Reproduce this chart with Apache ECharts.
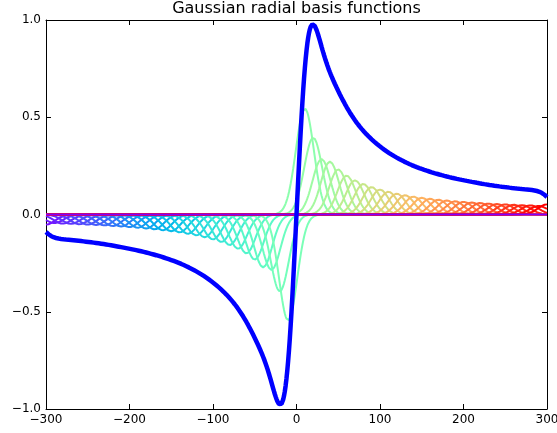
<!DOCTYPE html>
<html>
<head>
<meta charset="utf-8">
<script src="https://cdn.jsdelivr.net/npm/echarts@6/dist/echarts.min.js"></script>
<style>
  html, body { margin: 0; padding: 0; background: #fff; }
  #chart { width: 557px; height: 433px; }
</style>
</head>
<body>
<div id="chart"></div>
<script>
// Gaussian centres along x
const centers = [
  -300, -290, -280, -270, -260, -250, -240, -230, -220, -210,
  -200, -190, -180, -170, -160, -150, -140, -130, -120, -110,
  -100, -90, -80, -70, -60, -50, -40, -30, -20, -10,
  0,
  10, 20, 30, 40, 50, 60, 70, 80, 90, 100,
  110, 120, 130, 140, 150, 160, 170, 180, 190, 200,
  210, 220, 230, 240, 250, 260, 270, 280, 290, 300
];
// Fitted weight of each Gaussian (its peak height)
const weights = [
  -0.052, -0.044, -0.047, -0.048, -0.050, -0.052, -0.054, -0.056, -0.059, -0.062,
  -0.065, -0.068, -0.072, -0.076, -0.081, -0.086, -0.092, -0.099, -0.107, -0.117,
  -0.128, -0.141, -0.157, -0.176, -0.200, -0.232, -0.272, -0.285, -0.395, -0.545,
  0.000,
  0.545, 0.395, 0.285, 0.272, 0.232, 0.200, 0.176, 0.157, 0.141, 0.128,
  0.117, 0.107, 0.099, 0.092, 0.086, 0.081, 0.076, 0.072, 0.068, 0.065,
  0.062, 0.059, 0.056, 0.054, 0.052, 0.050, 0.048, 0.047, 0.044, 0.052
];
const sigma = 10.8;     // common width of the basis functions
const biasWeight = 0;   // constant term of the fit
const xTicks = [-300, -200, -100, 0, 100, 200, 300];
const yTicks = [-1.0, -0.5, 0.0, 0.5, 1.0];
const titleText = 'Gaussian radial basis functions';

// sampling grid for drawing the curves
const xs = [];
for (let x = xTicks[0]; x <= xTicks[xTicks.length - 1]; x += 1) xs.push(x);

// matplotlib "rainbow" colormap
function rainbow(t) {
  const clip = v => Math.max(0, Math.min(1, v));
  const r = clip(Math.abs(2 * t - 0.5));
  const g = clip(Math.sin(Math.PI * t));
  const b = clip(Math.cos(Math.PI * t / 2));
  return 'rgb(' + Math.round(r * 255) + ',' + Math.round(g * 255) + ',' + Math.round(b * 255) + ')';
}

const gauss = (x, c) => Math.exp(-((x - c) * (x - c)) / (2 * sigma * sigma));
const nBasis = centers.length + 1;

const series = [];
centers.forEach((c, i) => {
  const w = weights[i];
  series.push({
    type: 'line',
    data: xs.map(x => [x, w * gauss(x, c)]),
    showSymbol: false,
    silent: true,
    lineStyle: { color: rainbow((i + 1) / (nBasis - 1)), width: 2 },
    z: 2
  });
});

// constant (bias) term
series.push({
  type: 'line',
  data: [[xTicks[0], biasWeight], [xTicks[xTicks.length - 1], biasWeight]],
  showSymbol: false,
  silent: true,
  lineStyle: { color: rainbow(0), width: 2 },
  z: 3
});

// sum of all basis functions
series.push({
  type: 'line',
  data: xs.map(x => {
    let s = biasWeight;
    centers.forEach((c, i) => { s += weights[i] * gauss(x, c); });
    return [x, s];
  }),
  showSymbol: false,
  silent: true,
  lineStyle: { color: '#0000ff', width: 4.5 },
  z: 4
});

const fmt = v => String(v).replace('-', '\u2212');
const font = 'DejaVu Sans';
const axisCommon = {
  axisLine: { show: true, onZero: false, lineStyle: { color: '#000', width: 1 } },
  axisTick: { show: true, inside: true, length: 5, lineStyle: { color: '#000', width: 1 } },
  splitLine: { show: false }
};

const option = {
  animation: false,
  backgroundColor: '#fff',
  grid: { left: 46, right: 10, top: 20, bottom: 24, containLabel: false, outerBoundsMode: 'none' },
  xAxis: [
    Object.assign({
      type: 'value', position: 'bottom',
      min: xTicks[0], max: xTicks[xTicks.length - 1], interval: 100,
      axisLabel: { color: '#000', fontSize: 12, fontFamily: font, margin: 5, formatter: v => fmt(v) }
    }, axisCommon),
    Object.assign({
      type: 'value', position: 'top',
      min: xTicks[0], max: xTicks[xTicks.length - 1], interval: 100,
      axisLabel: { show: false }
    }, axisCommon)
  ],
  yAxis: [
    Object.assign({
      type: 'value', position: 'left',
      min: yTicks[0], max: yTicks[yTicks.length - 1], interval: 0.5,
      axisLabel: { color: '#000', fontSize: 12, fontFamily: font, margin: 5, formatter: v => fmt(v.toFixed(1)) }
    }, axisCommon),
    Object.assign({
      type: 'value', position: 'right',
      min: yTicks[0], max: yTicks[yTicks.length - 1], interval: 0.5,
      axisLabel: { show: false }
    }, axisCommon)
  ],
  graphic: [{
    type: 'text',
    x: 296.5, y: 1,
    style: { text: titleText, font: '16px "DejaVu Sans"', fill: '#000', align: 'center', verticalAlign: 'top' }
  }],
  series: series
};

const chart = echarts.init(document.getElementById('chart'), null, { renderer: 'canvas' });
chart.setOption(option);
</script>
</body>
</html>
